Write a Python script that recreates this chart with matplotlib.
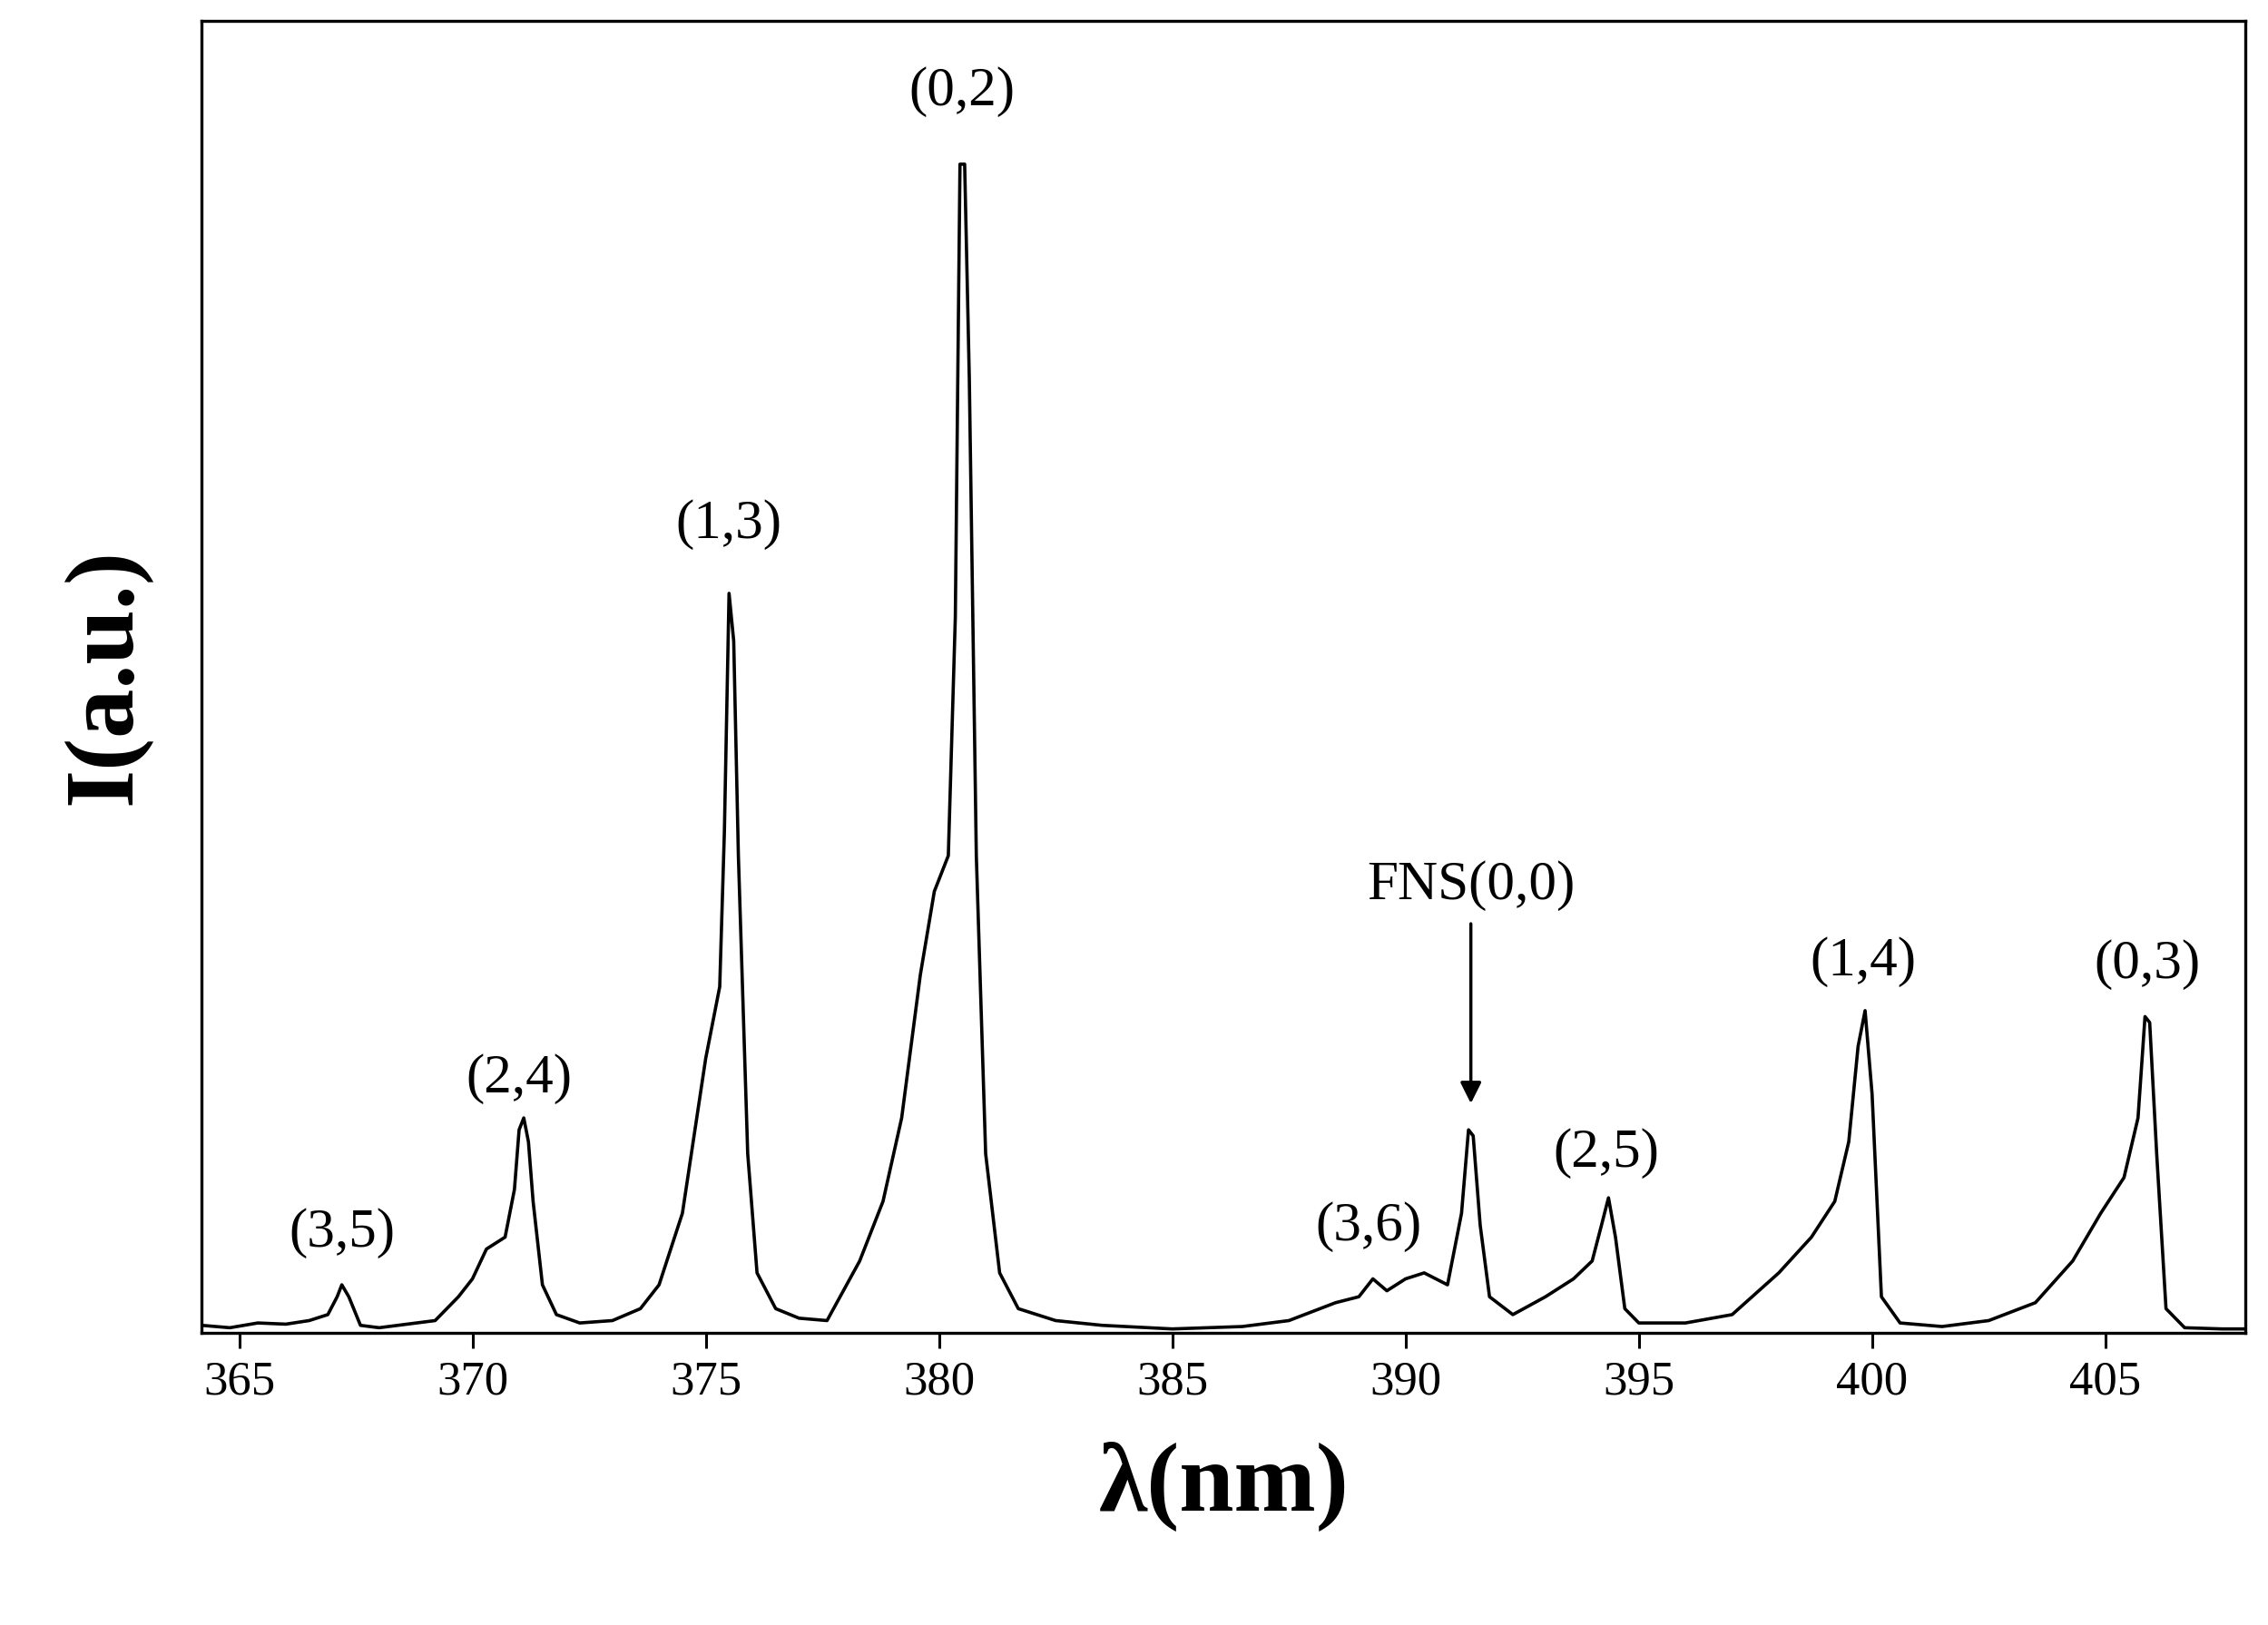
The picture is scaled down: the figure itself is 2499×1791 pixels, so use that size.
import matplotlib.pyplot as plt
from matplotlib.ticker import MultipleLocator

plt.rcParams['font.family'] = ['Liberation Serif', 'DejaVu Serif']

# Data: spectrum
wavelength = [364.2, 364.8, 365.4, 366.0, 366.5, 366.9, 367.1, 367.2, 367.35, 367.6, 368.0, 368.6, 369.2,
              369.7, 370.0, 370.3, 370.7, 370.9, 371.0, 371.1, 371.2, 371.3, 371.5, 371.8, 372.3, 373.0, 373.6, 374.0,
              374.5, 375.0, 375.3, 375.4, 375.5, 375.6, 375.7, 375.9, 376.1, 376.5, 377.0, 377.6, 378.3, 378.8,
              379.2, 379.6, 379.9, 380.2, 380.35, 380.45, 380.55, 380.65, 380.8, 381.0, 381.3, 381.7, 382.5, 383.5,
              385.0, 386.5, 387.5, 388.5, 389.0, 389.3, 389.6, 390.0, 390.4, 390.9, 391.2, 391.35, 391.45, 391.6,
              391.8, 392.3, 393.0, 393.6, 394.0, 394.2, 394.35, 394.5, 394.7, 395.0, 396.0, 397.0, 398.0, 398.7,
              399.2, 399.5, 399.7, 399.85, 400.0, 400.2, 400.6, 401.5, 402.5, 403.5, 404.3, 404.9, 405.4, 405.7,
              405.85, 405.95, 406.1, 406.3, 406.7, 407.5, 408.0]
intensity = [0.006, 0.004, 0.008, 0.007, 0.01, 0.015, 0.03, 0.04, 0.03, 0.006, 0.004, 0.007, 0.01,
             0.03, 0.045, 0.07, 0.08, 0.12, 0.17, 0.18, 0.16, 0.11, 0.04, 0.015, 0.008, 0.01, 0.02, 0.04,
             0.1, 0.23, 0.29, 0.42, 0.62, 0.58, 0.4, 0.15, 0.05, 0.02, 0.012, 0.01, 0.06, 0.11,
             0.18, 0.3, 0.37, 0.4, 0.6, 0.98, 0.98, 0.8, 0.4, 0.15, 0.05, 0.02, 0.01, 0.006,
             0.003, 0.005, 0.01, 0.025, 0.03, 0.045, 0.035, 0.045, 0.05, 0.04, 0.1, 0.17, 0.165, 0.09,
             0.03, 0.015, 0.03, 0.045, 0.06, 0.09, 0.113, 0.08, 0.02, 0.008, 0.008, 0.015, 0.05, 0.08,
             0.11, 0.16, 0.24, 0.27, 0.2, 0.03, 0.008, 0.005, 0.01, 0.025, 0.06, 0.1, 0.13, 0.18,
             0.265, 0.26, 0.15, 0.02, 0.004, 0.003, 0.003]

band_labels = ['(3,5)', '(2,4)', '(1,3)', '(0,2)', '(3,6)', '(2,5)', '(1,4)', '(0,3)']
band_x = [367.2, 371.0, 375.5, 380.5, 389.2, 394.3, 399.8, 405.9]
band_y = [0.083, 0.213, 0.678, 1.041, 0.089, 0.15, 0.311, 0.309]

fig = plt.figure(figsize=(24.99, 17.91), dpi=100)
ax = fig.add_axes([0.089, 0.18, 0.901, 0.807])

ax.plot(wavelength, intensity, color='black', linewidth=2.6)

for lab, x, y in zip(band_labels, band_x, band_y):
    ax.text(x, y, lab, ha='center', va='center', fontsize=44)

ax.annotate('', xy=(391.4, 0.19), xytext=(391.4, 0.345),
            arrowprops=dict(arrowstyle='-|>', color='black', lw=2.5, mutation_scale=35))
ax.text(391.4, 0.375, 'FNS(0,0)', ha='center', va='center', fontsize=44)

ax.set_xlim(364.2, 408.0)
ax.set_ylim(0, 1.1)
ax.xaxis.set_major_locator(MultipleLocator(5))
ax.set_yticks([])
ax.tick_params(axis='x', direction='out', length=12, width=2.2, labelsize=38, pad=10)
for s in ax.spines.values():
    s.set_linewidth(2.4)

ax.set_xlabel('λ(nm)', fontsize=78, fontweight='bold', labelpad=30)
ax.set_ylabel('I(a.u.)', fontsize=78, fontweight='bold', labelpad=40)

fig.savefig('out.png', dpi=100)
